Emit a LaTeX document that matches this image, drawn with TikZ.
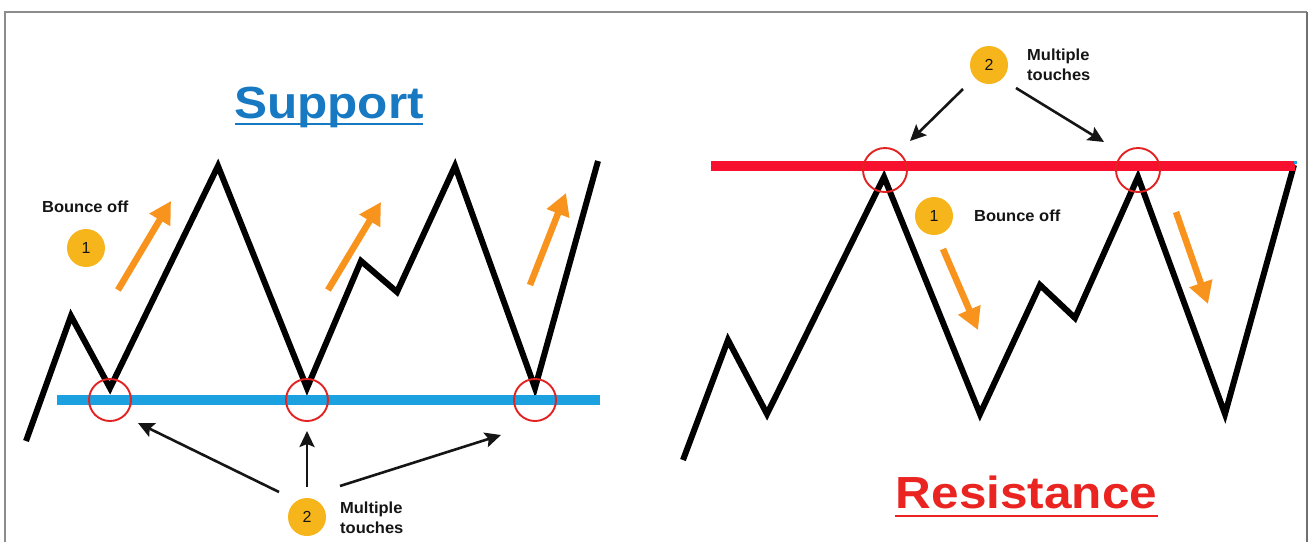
\documentclass[tikz,border=0pt]{standalone}
\usepackage{fontspec}
\setmainfont{Liberation Sans}
\usetikzlibrary{arrows.meta}
\definecolor{supblue}{HTML}{1BA0E0}
\definecolor{suptitle}{HTML}{1779C2}
\definecolor{resred}{HTML}{F8102F}
\definecolor{restitle}{HTML}{EA2420}
\definecolor{orangearr}{HTML}{F8941E}
\definecolor{badgecol}{HTML}{F5B51B}
\definecolor{touchred}{HTML}{E32222}
\definecolor{framegray}{HTML}{8C8C8C}
\definecolor{inkcol}{HTML}{151515}
\newcommand{\hstretch}[2]{\scalebox{#1}[1]{#2}}
\begin{document}
\begin{tikzpicture}[x=1pt,y=-1pt,
  price/.style={line width=6pt, black, line join=miter, miter limit=10},
  levelline/.style={line width=10pt},
  touch/.style={draw=touchred, line width=1.9pt, circle, minimum size=42pt, inner sep=0pt},
  bounce/.style={orangearr, line width=6.5pt, -{Triangle[width=23pt,length=22pt]}},
  pointer/.style={inkcol, line width=2.6pt, -{Stealth[width=15pt,length=16pt,inset=3pt]}},
  badge/.style={circle, fill=badgecol, minimum size=38pt, inner sep=0pt, text=inkcol, font=\fontsize{16}{16}\selectfont},
  label/.style={anchor=west, inner sep=0pt, text=inkcol, align=left, font=\fontsize{16}{20}\selectfont\bfseries},
  title/.style={inner sep=0pt, anchor=base, font=\fontsize{45}{50}\selectfont\bfseries}
]
\useasboundingbox (0,0) rectangle (1310,542);
\fill[white] (0,0) rectangle (1310,542);
% frame
\draw[framegray, line width=1.3pt] (5,542) -- (5,12) -- (1307,12);
\draw[framegray!80!black, line width=2pt] (1307,12) -- (1307,542);

% ===== Support =====
\node[title, text=suptitle] (suptxt) at (329,118) {\hstretch{1.1}{Support}};
\draw[suptitle, line width=2.4pt] (235,124) -- (423,124);

\draw[price] (26,441) -- (71,316) -- (110,388) -- (218,166) -- (307,388) -- (361,261) -- (397,292) -- (455,166) -- (535,388) -- (598,161);
\draw[levelline, supblue] (57,400) -- (600,400);
\node[touch] (t1) at (110,400) {};
\node[touch] (t2) at (307,400) {};
\node[touch] (t3) at (535,400) {};

\coordinate (a1s) at (118,290); \coordinate (a1e) at (171,201);
\coordinate (a2s) at (328,290); \coordinate (a2e) at (381,202);
\coordinate (a3s) at (530,285); \coordinate (a3e) at (566,193);
\draw[bounce] (a1s) -- (a1e);
\draw[bounce] (a2s) -- (a2e);
\draw[bounce] (a3s) -- (a3e);

\node[label] (bl1) at (42,207) {\hstretch{1.03}{Bounce off}};
\node[badge] (b1l) at (86,248) {1};

\node[badge] (b2l) at (307,517) {2};
\node[label] (ml) at (340,518) {\hstretch{1.03}{Multiple}\\\hstretch{1.03}{touches}};
\coordinate (p1s) at (279,492); \coordinate (p1e) at (138,423);
\coordinate (p2s) at (307,487); \coordinate (p2e) at (307,431);
\coordinate (p3s) at (340,486); \coordinate (p3e) at (501,435);
\draw[pointer] (p1s) -- (p1e);
\draw[pointer] (p2s) -- (p2e);
\draw[pointer] (p3s) -- (p3e);

% ===== Resistance =====
\draw[price] (683,460) -- (728,340) -- (767,414) -- (884,177) -- (980,414) -- (1040,285) -- (1075,318) -- (1138,177) -- (1225,414) -- (1294,165);
\draw[levelline, resred] (711,165.5) -- (1295,165.5);
\fill[supblue] (1293.5,160.5) rectangle (1296.5,164);
\node[touch, minimum size=44pt] (t4) at (885,170) {};
\node[touch, minimum size=44pt] (t5) at (1138,170) {};

\coordinate (a4s) at (943,249); \coordinate (a4e) at (978,330);
\coordinate (a5s) at (1176,212); \coordinate (a5e) at (1208,304);
\draw[bounce] (a4s) -- (a4e);
\draw[bounce] (a5s) -- (a5e);

\node[badge] (b1r) at (934,216) {1};
\node[label] (br1) at (974,216) {\hstretch{1.03}{Bounce off}};

\node[badge] (b2r) at (989,65) {2};
\node[label] (mr) at (1027,65) {\hstretch{1.03}{Multiple}\\\hstretch{1.03}{touches}};
\coordinate (p4s) at (963,89); \coordinate (p4e) at (910,141);
\coordinate (p5s) at (1016,88); \coordinate (p5e) at (1104,142);
\draw[pointer] (p4s) -- (p4e);
\draw[pointer] (p5s) -- (p5e);

\node[title, text=restitle] (restxt) at (1026.5,508) {\hstretch{1.1}{Resistance}};
\draw[restitle, line width=2.4pt] (895,516) -- (1158,516);
\end{tikzpicture}
\end{document}
